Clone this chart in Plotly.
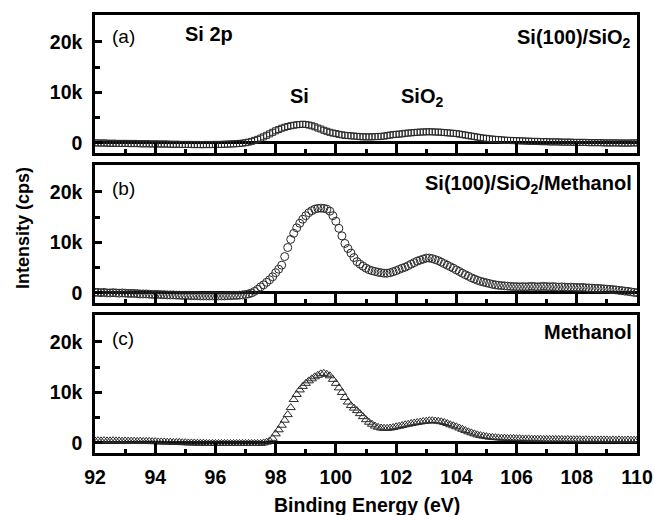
import plotly.graph_objects as go

# Binding energy grid: 92.0 .. 110.0 eV, step 0.1 eV (181 points)
E_START = 92.0
E_STEP = 0.1

# Intensities in kcps
si_sio2 = [
    0.0, 0.0, -0.05, 0.0, -0.05, -0.1, -0.05, -0.1, -0.1, -0.1,
    -0.1, -0.1, -0.15, -0.1, -0.15, -0.15, -0.2, -0.15, -0.2, -0.2,
    -0.2, -0.2, -0.25, -0.2, -0.25, -0.25, -0.3, -0.25, -0.3, -0.3,
    -0.3, -0.3, -0.3, -0.35, -0.3, -0.35, -0.35, -0.3, -0.35, -0.3,
    -0.3, -0.3, -0.3, -0.25, -0.25, -0.2, -0.2, -0.15, -0.1, -0.05,
    0.05, 0.15, 0.3, 0.5, 0.7, 0.95, 1.2, 1.5, 1.8, 2.1,
    2.4, 2.65, 2.9, 3.1, 3.25, 3.4, 3.5, 3.6, 3.65, 3.7,
    3.65, 3.55, 3.4, 3.2, 2.95, 2.75, 2.5, 2.3, 2.1, 1.95,
    1.85, 1.7, 1.6, 1.5, 1.45, 1.4, 1.35, 1.3, 1.25, 1.2,
    1.2, 1.2, 1.2, 1.25, 1.25, 1.3, 1.35, 1.45, 1.55, 1.65,
    1.7, 1.75, 1.8, 1.9, 1.95, 2.0, 2.05, 2.1, 2.15, 2.15,
    2.2, 2.2, 2.2, 2.15, 2.15, 2.1, 2.05, 2.0, 1.95, 1.9,
    1.85, 1.75, 1.65, 1.55, 1.45, 1.35, 1.25, 1.15, 1.05, 0.95,
    0.9, 0.8, 0.75, 0.7, 0.65, 0.6, 0.55, 0.5, 0.5, 0.45,
    0.45, 0.4, 0.4, 0.35, 0.35, 0.3, 0.3, 0.3, 0.25, 0.25,
    0.25, 0.2, 0.2, 0.2, 0.2, 0.15, 0.15, 0.15, 0.15, 0.1,
    0.1, 0.1, 0.1, 0.1, 0.05, 0.05, 0.05, 0.05, 0.05, 0.0,
    0.0, 0.0, 0.0, 0.0, 0.0, -0.05, 0.0, -0.05, 0.0, 0.0,
    0.0,
]

si_sio2_methanol = [
    0.1, 0.1, 0.05, 0.1, 0.0, 0.0, 0.05, 0.0, -0.05, 0.0,
    -0.05, -0.1, -0.1, -0.1, -0.15, -0.2, -0.2, -0.2, -0.25, -0.3,
    -0.3, -0.3, -0.35, -0.35, -0.4, -0.4, -0.4, -0.45, -0.45, -0.5,
    -0.5, -0.5, -0.55, -0.55, -0.55, -0.6, -0.6, -0.6, -0.6, -0.6,
    -0.6, -0.6, -0.6, -0.6, -0.55, -0.55, -0.5, -0.5, -0.45, -0.4,
    -0.3, -0.2, 0.0, 0.3, 0.7, 1.2, 1.6, 2.1, 2.6, 3.2,
    4.0, 4.7, 5.5, 7.2, 9.0, 10.6, 11.8, 12.9, 13.8, 14.6,
    15.3, 15.9, 16.3, 16.6, 16.75, 16.8, 16.75, 16.6, 16.2, 15.3,
    14.2, 12.8, 11.3, 9.8, 8.8, 7.9, 7.0, 6.2, 5.7, 5.3,
    4.9, 4.6, 4.4, 4.25, 4.1, 4.0, 3.9, 3.9, 4.0, 4.2,
    4.4, 4.65, 4.9, 5.1, 5.4, 5.7, 6.0, 6.3, 6.5, 6.7,
    6.9, 6.9, 6.8, 6.6, 6.4, 6.1, 5.8, 5.5, 5.2, 4.9,
    4.55, 4.25, 3.9, 3.6, 3.3, 3.0, 2.75, 2.5, 2.3, 2.15,
    2.0, 1.85, 1.7, 1.6, 1.5, 1.45, 1.4, 1.35, 1.3, 1.25,
    1.25, 1.2, 1.25, 1.2, 1.25, 1.3, 1.25, 1.2, 1.25, 1.3,
    1.25, 1.2, 1.25, 1.2, 1.15, 1.2, 1.15, 1.1, 1.15, 1.1,
    1.1, 1.05, 1.1, 1.0, 1.0, 0.95, 0.9, 0.9, 0.85, 0.8,
    0.75, 0.7, 0.65, 0.6, 0.5, 0.45, 0.35, 0.3, 0.2, 0.1,
    0.05,
]

methanol = [
    0.4, 0.45, 0.4, 0.45, 0.4, 0.4, 0.45, 0.4, 0.4, 0.35,
    0.4, 0.35, 0.35, 0.35, 0.3, 0.35, 0.3, 0.3, 0.3, 0.25,
    0.25, 0.2, 0.2, 0.2, 0.15, 0.15, 0.1, 0.1, 0.1, 0.05,
    0.05, 0.0, 0.0, 0.0, -0.05, -0.05, -0.05, -0.1, -0.1, -0.1,
    -0.1, -0.1, -0.1, -0.1, -0.1, -0.1, -0.1, -0.1, -0.1, -0.1,
    -0.1, -0.1, -0.1, -0.1, -0.1, -0.1, 0.0, 0.15, 0.4, 0.9,
    1.8, 2.6, 3.5, 4.5, 5.6, 7.0, 8.6, 9.6, 10.5, 11.2,
    11.8, 12.3, 12.7, 13.1, 13.4, 13.7, 13.8, 13.6, 13.3, 12.6,
    11.8, 10.9, 10.0, 9.0, 8.1, 7.4, 6.9, 6.4, 5.8, 5.2,
    4.6, 4.1, 3.7, 3.35, 3.1, 2.95, 2.9, 2.9, 2.95, 3.05,
    3.2, 3.3, 3.45, 3.6, 3.7, 3.85, 3.95, 4.05, 4.15, 4.25,
    4.3, 4.4, 4.4, 4.35, 4.3, 4.2, 4.05, 3.85, 3.6, 3.4,
    3.2, 2.95, 2.7, 2.45, 2.2, 2.0, 1.8, 1.6, 1.45, 1.35,
    1.25, 1.15, 1.1, 1.05, 1.0, 0.95, 0.95, 0.9, 0.9, 0.9,
    0.85, 0.85, 0.8, 0.8, 0.8, 0.75, 0.75, 0.75, 0.75, 0.7,
    0.7, 0.7, 0.7, 0.7, 0.7, 0.7, 0.65, 0.7, 0.65, 0.65,
    0.65, 0.65, 0.6, 0.65, 0.6, 0.6, 0.6, 0.6, 0.6, 0.6,
    0.6, 0.55, 0.6, 0.55, 0.6, 0.55, 0.55, 0.6, 0.55, 0.55,
    0.55,
]

x_ticks = [92, 94, 96, 98, 100, 102, 104, 106, 108, 110]
y_tickvals = [0, 10, 20]
y_ticktext = ["0", "10k", "20k"]

W, H = 654, 515
FONT = "Liberation Sans, Arial, sans-serif"
X_LEFT, X_RIGHT = 95, 637
panels_px = [(15, 153), (165, 303), (315, 453)]  # top, bottom in px


def py(p):
    return 1 - p / H


series = [
    (si_sio2, "square-open", 6),
    (si_sio2_methanol, "circle-open", 8),
    (methanol, "triangle-up-open", 8),
]

fig = go.Figure()
for i, (vals, sym, sz) in enumerate(series):
    n = "" if i == 0 else str(i + 1)
    fig.add_trace(go.Scatter(
        x0=E_START, dx=E_STEP, y=vals, mode="markers",
        marker=dict(symbol=sym, size=sz, color="#2a2a2a", line=dict(width=1, color="#2a2a2a")),
        xaxis="x" + n, yaxis="y" + n, showlegend=False,
    ))
    top, bot = panels_px[i]
    common_line = dict(showline=True, linecolor="black", linewidth=2.5, mirror=True,
                       automargin=False)
    fig.layout["xaxis" + n] = dict(
        domain=[X_LEFT / W, X_RIGHT / W], anchor="y" + n, range=[92, 110],
        tickvals=x_ticks, ticks="inside", ticklen=10, tickwidth=2.5, tickcolor="black",
        minor=dict(dtick=1, tick0=92, ticks="inside", ticklen=4, tickwidth=2.5, tickcolor="black"),
        showticklabels=(i == 2), showgrid=False, zeroline=False,
        tickfont=dict(family=FONT, size=19.5, color="black", weight="bold"),
        ticklabelstandoff=5, **common_line,
    )
    fig.layout["yaxis" + n] = dict(
        domain=[py(bot), py(top)], anchor="x" + n, range=[-2.0, 25.35],
        tickvals=y_tickvals, ticktext=y_ticktext, ticks="inside", ticklen=7, tickwidth=2.5,
        tickcolor="black",
        minor=dict(tickvals=[5, 15], ticks="inside", ticklen=5, tickwidth=2.5, tickcolor="black"),
        showgrid=False, zeroline=True, zerolinecolor="black", zerolinewidth=2.5,
        tickfont=dict(family=FONT, size=19.5, color="black", weight="bold"),
        ticklabelstandoff=6, **common_line,
    )

ann = []


def add(text, x, y, xanchor="left", size=20, angle=0):
    ann.append(dict(text=text, x=x / W, y=py(y), xref="paper", yref="paper",
                    xanchor=xanchor, yanchor="middle", showarrow=False, textangle=angle,
                    font=dict(family=FONT, size=size, color="black")))


add("(a)", 110, 36, size=19)
add("<b>Si 2p</b>", 183, 34)
add("<b>Si(100)/SiO<sub>2</sub></b>", 633, 39, xanchor="right")
add("<b>Si</b>", 299, 96, xanchor="center")
add("<b>SiO<sub>2</sub></b>", 422, 98, xanchor="center")
add("(b)", 110, 189, size=19)
add("<b>Si(100)/SiO<sub>2</sub>/Methanol</b>", 634, 184, xanchor="right")
add("(c)", 110, 338, size=19)
add("<b>Methanol</b>", 634, 332, xanchor="right")
add("<b>Binding Energy (eV)</b>", 367, 505, xanchor="center", size=19.5)
add("<b>Intensity (cps)</b>", 23, 228, xanchor="center", size=18, angle=-90)

fig.update_layout(
    width=W, height=H, margin=dict(l=0, r=0, t=0, b=0, autoexpand=False),
    paper_bgcolor="white", plot_bgcolor="white",
    annotations=ann, font=dict(family=FONT, color="black"),
)

fig.write_html("out.html")
